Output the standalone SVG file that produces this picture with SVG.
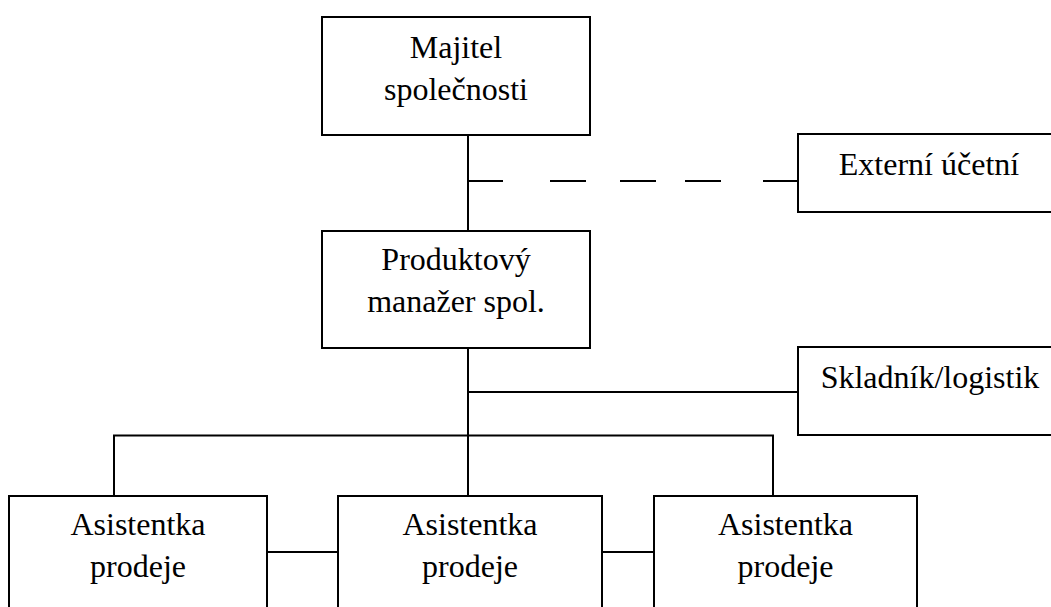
<svg xmlns="http://www.w3.org/2000/svg" width="1051" height="607" viewBox="0 0 1051 607">
<style>
.box{fill:#fff;stroke:#000;stroke-width:2}
.ln{fill:none;stroke:#000;stroke-width:2}
text{font-family:"Liberation Serif","Times New Roman",serif;font-size:32px;fill:#000;text-anchor:middle}
</style>
<rect width="1051" height="607" fill="#fff"/>
<g id="connectors">
<path class="ln" d="M468,135 V231"/>
<path class="ln" d="M468,181 H503 M550,181 H586 M620,181 H656 M685,181 H721 M763,181 H798"/>
<path class="ln" d="M468,348 V496"/>
<path class="ln" d="M468,392 H798"/>
<path class="ln" d="M114,496 V435.5 H773 V496"/>
<path class="ln" d="M267,552 H338"/>
<path class="ln" d="M602,552 H654"/>
</g>
<g id="majitel">
<rect class="box" x="322" y="17" width="268" height="118"/>
<text x="456" y="58">Majitel</text>
<text x="456" y="100">společnosti</text>
</g>
<g id="externi">
<rect class="box" x="798" y="134" width="270" height="78"/>
<text x="929" y="175">Externí účetní</text>
</g>
<g id="produktovy">
<rect class="box" x="322" y="231" width="268" height="117"/>
<text x="456" y="270">Produktový</text>
<text x="456" y="312">manažer spol.</text>
</g>
<g id="skladnik">
<rect class="box" x="798" y="347" width="270" height="88"/>
<text x="930" y="388">Skladník/logistik</text>
</g>
<g id="asistentka1">
<rect class="box" x="9" y="496" width="258" height="150"/>
<text x="138" y="535">Asistentka</text>
<text x="138" y="577">prodeje</text>
</g>
<g id="asistentka2">
<rect class="box" x="338" y="496" width="264" height="150"/>
<text x="470" y="535">Asistentka</text>
<text x="470" y="577">prodeje</text>
</g>
<g id="asistentka3">
<rect class="box" x="654" y="496" width="263" height="150"/>
<text x="785.5" y="535">Asistentka</text>
<text x="785.5" y="577">prodeje</text>
</g>
</svg>
